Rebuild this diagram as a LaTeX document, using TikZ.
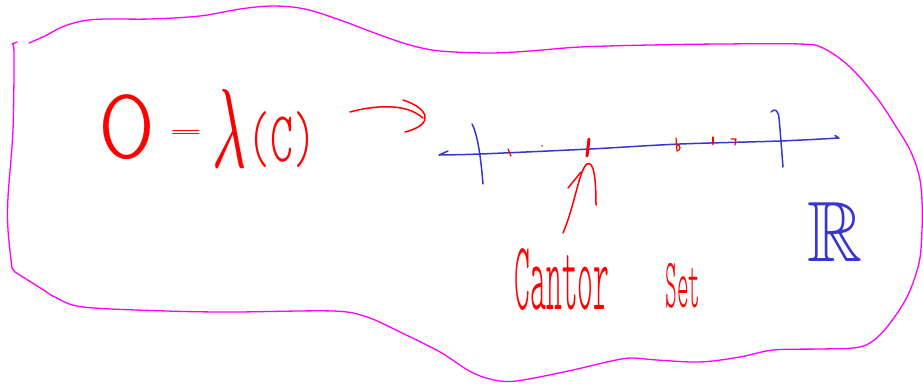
\documentclass[tikz,border=0pt]{standalone}
\usepackage{amssymb}
\usepackage{graphicx}
\usepackage{fontspec}
\newfontfamily\thinfont{Latin Modern Mono Light}
\definecolor{pen}{RGB}{255,0,0}
\definecolor{blob}{RGB}{255,0,255}
\definecolor{axis}{RGB}{55,55,205}
\tikzset{
  outline/.style={draw=blob, line width=1.3pt, line cap=round, line join=round},
  axisline/.style={draw=axis, line width=1.5pt, line cap=round, line join=round},
  redink/.style={draw=pen, line width=1.5pt, line cap=round, line join=round},
  txt/.style={inner sep=0pt, outer sep=0pt, text=pen},
  bluetxt/.style={inner sep=0pt, outer sep=0pt, text=axis}
}
\begin{document}
\begin{tikzpicture}[x=1pt,y=-1pt]
\useasboundingbox (0,0) rectangle (923,384);
% magenta outline
\draw[outline] plot[smooth, tension=0.55] coordinates {
 (29,43) (45,36) (62,27) (82,21) (105,19) (150,19) (200,16) (240,9) (273,6) (305,9)
 (340,20) (380,35) (410,45) (440,51) (490,53) (530,51) (580,47) (650,45) (720,44)
 (800,44) (823,48) (850,67) (877,98) (895,125) (910,150) (919,175) (922,200) (922,230)
 (919,263) (907,297) (887,327) (870,343) (853,348) (820,349) (773,350) (740,357)
 (700,362) (657,360) (630,358) (607,362) (573,370) (523,380) (500,381) (473,373)
 (440,352) (400,332) (367,317) (333,311) (233,312) (167,311) (83,307) (55,297)
 (42,289) (15,272)} -- (12,268);
\draw[outline] plot[smooth, tension=0.5] coordinates {(12,268) (8,230) (8,197) (13,130) (14,53) (12,44)} -- (17,42);

% formula
\node[txt] (zero) at (127,127) {\resizebox*{59pt}{65pt}{\thinfont 0}};
\node[txt] (eq) at (186,134) {\resizebox*{33pt}{8pt}{\thinfont =}};
\node[txt] (lam) at (230,128) {\resizebox*{34pt}{78pt}{$\lambda$}};
\node[txt] (argC) at (282,140) {\resizebox*{69pt}{56pt}{\thinfont (C)}};

% squiggly implication arrow
\coordinate (impA) at (350,112);
\coordinate (impB) at (423,118);
\coordinate (headA) at (403,100);
\coordinate (headB) at (405,132);
\draw[redink] (impA) .. controls (372,106) and (405,102) .. (impB);
\draw[redink] (headA) .. controls (428,108) and (436,124) .. (headB);

% real line
\coordinate (lineL) at (439,155);
\coordinate (lineR) at (839,138);
\draw[axisline] (448,151) -- (lineL) plot[smooth] coordinates {(439,155) (480,154) (590,149) (680,144) (780,141) (839,138)} -- (835,135.5);
\draw[axisline] (472,124) .. controls (478,135) and (481,160) .. (483,184);
\draw[axisline] (771,112) .. controls (775,108) and (778,110) .. (779,118) .. controls (781,140) and (782,155) .. (783,167);

% cantor set points
\draw[redink, line width=1.2pt] (508,149) -- (511,156);
\fill[pen] (542,146) circle (0.8);
\draw[redink, line width=3pt] (589,139) -- (587,156);
\draw[redink, line width=1.2pt] (676,138) -- (677,151) .. controls (681,151) and (681,144) .. (677,145);
\draw[redink, line width=2.6pt] (713,137.5) -- (713,144);
\draw[redink, line width=1.2pt] (731,139) -- (736,139) -- (735,145);
\coordinate (cpoint) at (587,164);

% label and pointer
\node[txt] (cantor) at (562,280) {\resizebox*{95pt}{62pt}{\thinfont Cantor}};
\node[txt] (set) at (683,286) {\resizebox*{35pt}{45pt}{\thinfont Set}};
\coordinate (ptail) at (563,233);
\draw[redink] (ptail) .. controls (575,205) and (579,170) .. (cpoint) .. controls (594,160) and (596,180) .. (596,205);
\draw[redink] (568,188) -- (581,172);

% R
\node[bluetxt] (reals) at (835,232) {\resizebox*{55pt}{59pt}{$\mathbb{R}$}};
\end{tikzpicture}
\end{document}
